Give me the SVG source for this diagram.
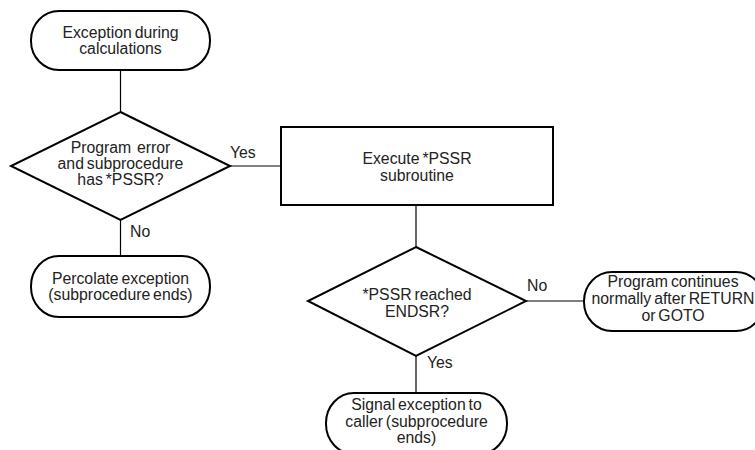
<svg xmlns="http://www.w3.org/2000/svg" width="755" height="450" viewBox="0 0 755 450">
<style>
.shape{fill:#fff;stroke:#000;stroke-width:2}
.conn{stroke:#000;stroke-width:1.2;fill:none}
text{font-family:"Liberation Sans",Arial,sans-serif;font-size:15.8px;fill:#222;text-anchor:middle;word-spacing:-1.5px}
.lbl{text-anchor:start}
</style>
<rect width="755" height="450" fill="#fff"/>
<g id="connectors">
<line class="conn" x1="120.5" y1="70" x2="120.5" y2="112"/>
<line class="conn" x1="230" y1="166" x2="281" y2="166"/>
<line class="conn" x1="120.5" y1="220" x2="120.5" y2="256"/>
<line class="conn" x1="416" y1="205" x2="416" y2="247"/>
<line class="conn" x1="526" y1="301" x2="584" y2="301"/>
<line class="conn" x1="416" y1="356" x2="416" y2="393"/>
<text class="lbl" x="230" y="158">Yes</text>
<text class="lbl" x="130" y="237">No</text>
<text class="lbl" x="527" y="291">No</text>
<text class="lbl" x="427" y="368">Yes</text>
</g>
<g id="start">
<rect class="shape" x="31" y="11" width="179" height="59" rx="28" ry="29"/>
<text x="120.5" y="37.5">Exception during</text>
<text x="120.5" y="53.5">calculations</text>
</g>
<g id="decision1">
<polygon class="shape" points="120.5,112 230,166 120.5,220 11,166"/>
<text xml:space="preserve" x="120.5" y="153">Program  error</text>
<text x="120.5" y="169">and subprocedure</text>
<text x="120.5" y="185">has *PSSR?</text>
</g>
<g id="percolate">
<rect class="shape" x="31" y="256" width="179" height="61" rx="28" ry="30"/>
<text x="120.5" y="283.5">Percolate exception</text>
<text x="120.5" y="299.5">(subprocedure ends)</text>
</g>
<g id="execute">
<rect class="shape" x="281" y="127" width="272" height="78"/>
<text x="417" y="164">Execute *PSSR</text>
<text x="417" y="181">subroutine</text>
</g>
<g id="decision2">
<polygon class="shape" points="416,247 526,301 416,356 308,301"/>
<text x="417" y="299.5">*PSSR reached</text>
<text x="417" y="316.5">ENDSR?</text>
</g>
<g id="continue">
<rect class="shape" x="584" y="272" width="180" height="59" rx="28" ry="29"/>
<text x="673" y="287">Program continues</text>
<text x="673" y="304">normally after RETURN</text>
<text x="673" y="321">or GOTO</text>
</g>
<g id="signal">
<rect class="shape" x="326" y="393" width="181" height="61" rx="28" ry="30"/>
<text x="416.5" y="410">Signal exception to</text>
<text x="416.5" y="426.5">caller (subprocedure</text>
<text x="416.5" y="443">ends)</text>
</g>
</svg>
